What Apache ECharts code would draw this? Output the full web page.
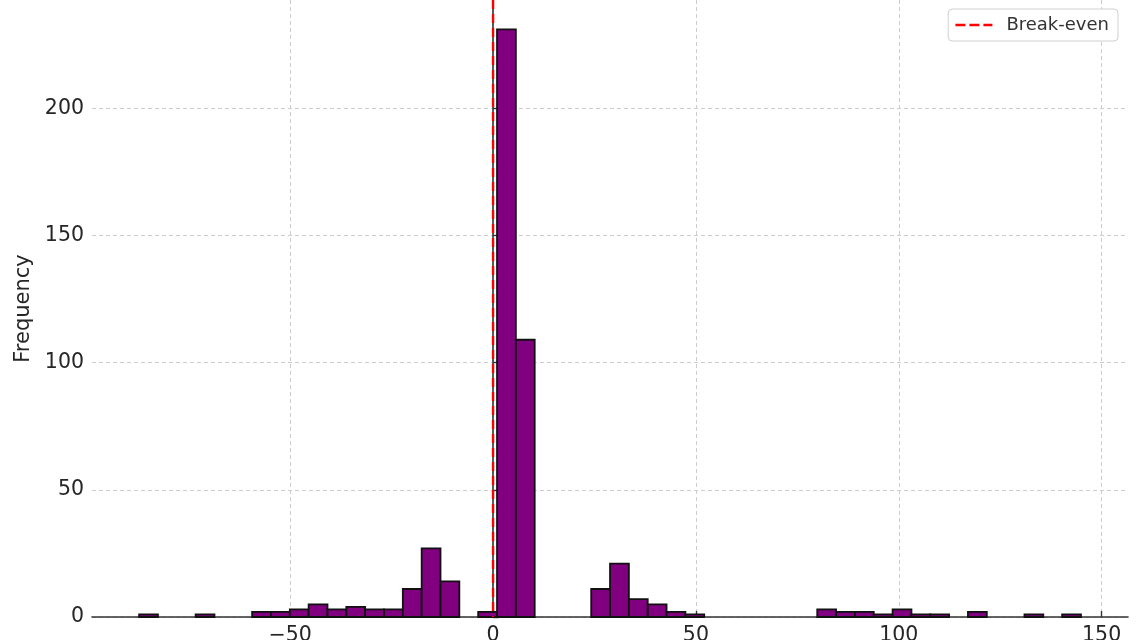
<!DOCTYPE html>
<html>
<head>
<meta charset="utf-8">
<script src="https://cdn.jsdelivr.net/npm/echarts@6/dist/echarts.min.js"></script>
<style>
html,body{margin:0;padding:0;background:#fff;}
#chart{width:1140px;height:640px;}
</style>
</head>
<body>
<div id="chart"></div>
<script>
// Histogram definition (50 bins)
const binStart = -87.24;
const binWidth = 4.643;
const counts = [
  1, 0, 0, 1, 0, 0, 2, 2, 3, 5,
  3, 4, 3, 3, 11, 27, 14, 0, 2, 231,
  109, 0, 0, 0, 11, 21, 7, 5, 2, 1,
  0, 0, 0, 0, 0, 0, 3, 2, 2, 1,
  3, 1, 1, 0, 2, 0, 0, 1, 0, 1
];
const xTicks = [-50, 0, 50, 100, 150];
const yTicks = [0, 50, 100, 150, 200];
const breakEven = 0;
const legendLabel = 'Break-even';
const yLabel = 'Frequency';

const xMin = -98.85, xMax = 156.5, yMax = 242.55;

const barData = counts.map((c, i) => [binStart + i * binWidth, binStart + (i + 1) * binWidth, c]);

const chart = echarts.init(document.getElementById('chart'), null, {renderer: 'canvas'});
const textColor = '#262626';
chart.setOption({
  animation: false,
  backgroundColor: '#ffffff',
  grid: {left: 92, right: 12, top: 0, bottom: 23, containLabel: false, outerBoundsMode: 'none'},
  legend: {
    right: 22, top: 9,
    data: [legendLabel],
    itemWidth: 37, itemHeight: 14,
    padding: [7, 9, 7, 6],
    borderColor: '#d0d0d0', borderWidth: 1, borderRadius: 4,
    backgroundColor: '#ffffff',
    itemStyle: {opacity: 0},
    lineStyle: {color: '#ff0000', width: 2.4, type: [10, 4]},
    textStyle: {color: '#333333', fontSize: 18, fontFamily: 'DejaVu Sans', padding: [0, 0, 0, 9]}
  },
  xAxis: {
    type: 'value', min: xMin, max: xMax,
    axisLine: {show: true, onZero: false, lineStyle: {color: '#333', width: 1.6}},
    axisTick: {show: true, inside: true, length: 6, customValues: xTicks, lineStyle: {color: '#333', width: 1.4}},
    axisLabel: {customValues: xTicks, color: textColor, fontSize: 20.5, fontFamily: 'DejaVu Sans', margin: 8,
      formatter: v => (v < 0 ? '\u2212' + Math.abs(v) : String(v))},
    splitLine: {show: true, lineStyle: {color: '#cccccc', width: 1, type: [4, 3]}}
  },
  yAxis: {
    type: 'value', min: 0, max: yMax,
    name: yLabel, nameLocation: 'middle', nameGap: 58, nameRotate: 90,
    nameTextStyle: {color: textColor, fontSize: 21, fontFamily: 'DejaVu Sans'},
    axisLine: {show: true, lineStyle: {color: '#333', width: 1.6}},
    axisTick: {show: true, inside: true, length: 6, customValues: yTicks, lineStyle: {color: '#333', width: 1.4}},
    axisLabel: {customValues: yTicks, color: textColor, fontSize: 20.5, fontFamily: 'DejaVu Sans', margin: 8},
    splitLine: {show: true, lineStyle: {color: '#cccccc', width: 1, type: [4, 3]}}
  },
  series: [
    {
      type: 'custom',
      name: 'hist',
      data: barData,
      encode: {x: [0, 1], y: 2},
      renderItem: function (params, api) {
        const p0 = api.coord([api.value(0), api.value(2)]);
        const p1 = api.coord([api.value(1), 0]);
        if (api.value(2) <= 0) return null;
        return {
          type: 'rect',
          shape: {x: p0[0], y: p0[1], width: p1[0] - p0[0], height: p1[1] - p0[1]},
          style: {fill: '#800080', stroke: '#111111', lineWidth: 1.8}
        };
      },
      z: 2
    },
    {
      type: 'custom',
      name: 'breakEvenLine',
      data: [[breakEven, 0, yMax]],
      encode: {x: 0, y: [1, 2]},
      renderItem: function (params, api) {
        const a = api.coord([api.value(0), api.value(1)]);
        const b = api.coord([api.value(0), api.value(2)]);
        // dashed pattern drawn as separate segments (style only)
        const dash = 9, gap = 5;
        const children = [];
        for (let y = b[1]; y < a[1]; y += dash + gap) {
          children.push({
            type: 'rect',
            shape: {x: a[0] - 1.2, y: y, width: 2.4, height: Math.min(dash, a[1] - y)},
            style: {fill: '#ff0000'}
          });
        }
        return {type: 'group', children: children};
      },
      z: 5
    },
    {
      type: 'line',
      name: legendLabel,
      data: [],
      symbol: 'none',
      lineStyle: {color: '#ff0000', width: 2.4, type: [10, 4]},
      itemStyle: {color: '#ff0000'}
    }
  ]
});
</script>
</body>
</html>
